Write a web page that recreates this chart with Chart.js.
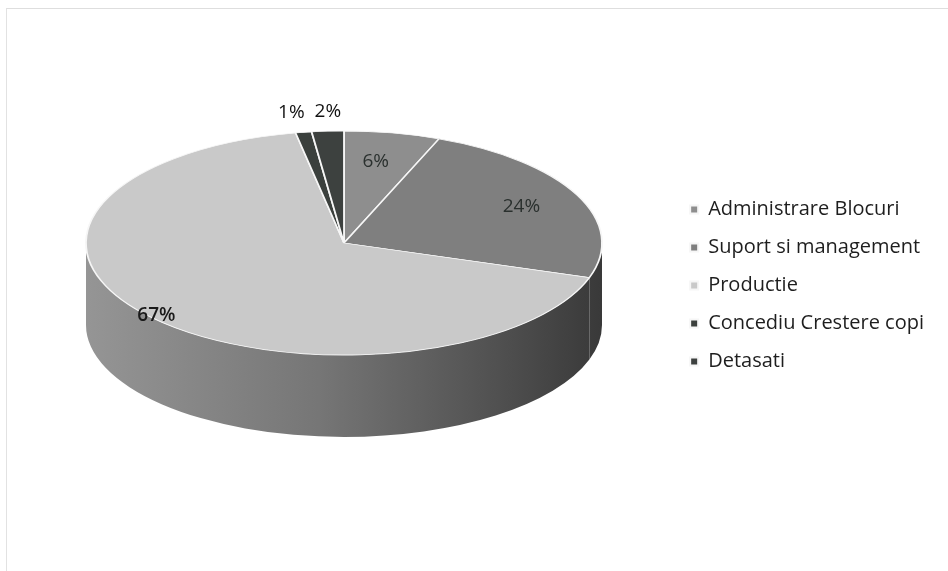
<!DOCTYPE html>
<html>
<head>
<meta charset="utf-8">
<script src="https://cdn.jsdelivr.net/npm/chart.js@4/dist/chart.umd.min.js"></script>
<style>
  html, body { margin: 0; padding: 0; background: #fff; }
  #wrap { position: relative; width: 948px; height: 571px; }
  #frame { position: absolute; left: 6px; top: 8px; right: 0; bottom: 0;
           border-top: 1px solid #dedede; border-left: 1px solid #e2e2e2; }
  canvas { position: absolute; left: 0; top: 0; }
</style>
</head>
<body>
<div id="wrap">
  <div id="frame"></div>
  <canvas id="chart" width="948" height="571"></canvas>
</div>
<script>
// date grafic
const categorii = ['Administrare Blocuri', 'Suport si management', 'Productie', 'Concediu Crestere copi', 'Detasati'];
const procente = [6, 24, 67, 1, 2];
const culori = ['#8e8e8e', '#7f7f7f', '#c9c9c9', '#3b403d', '#3d413f'];

// unde apare elipsa pe pagina (vedere 3D)
const ELIPSA = { cx: 344, cy: 243, rx: 258, ry: 112, adancime: 82 };

// pozitii etichete: raza relativa si mic decalaj orizontal
const razaEticheta = [0.74, 0.76, 0.98, 1.18, 1.18];
const decalajX = [-4, 0, 2, -5, 3];

function transforma(ctx, arc) {
    const r = arc.outerRadius;
    ctx.translate(ELIPSA.cx, ELIPSA.cy);
    ctx.scale(ELIPSA.rx / r, ELIPSA.ry / r);
    ctx.translate(-arc.x, -arc.y);
}

// deseneaza peretele lateral si aplica turtirea
const pie3d = {
    id: 'pie3d',
    beforeDatasetsDraw(chart) {
        const ctx = chart.ctx;
        const arcs = chart.getDatasetMeta(0).data;
        if (!arcs.length) return;
        const a0 = arcs[0];
        const r = a0.outerRadius;
        const d = ELIPSA.adancime * r / ELIPSA.ry;

        ctx.save();
        transforma(ctx, a0);

        const grad = ctx.createLinearGradient(a0.x - r, 0, a0.x + r, 0);
        grad.addColorStop(0, '#959595');
        grad.addColorStop(0.45, '#767676');
        grad.addColorStop(0.8, '#505050');
        grad.addColorStop(1, '#393939');

        arcs.forEach((arc) => {
            let s = arc.startAngle, e = arc.endAngle;
            // doar partea din fata (0..PI in unghiuri canvas)
            const norm = (v) => { v = v % (2 * Math.PI); return v < 0 ? v + 2 * Math.PI : v; };
            let ns = norm(s), ne = ns + (e - s);
            const parti = [];
            [[0, Math.PI], [2 * Math.PI, 3 * Math.PI]].forEach(([lo, hi]) => {
                const a = Math.max(ns, lo), b = Math.min(ne, hi);
                if (b > a) parti.push([a, b]);
            });
            parti.forEach(([a, b]) => {
                ctx.beginPath();
                ctx.arc(arc.x, arc.y, r, a, b);
                ctx.arc(arc.x, arc.y + d, r, b, a, true);
                ctx.closePath();
                ctx.fillStyle = grad;
                ctx.fill();
            });
        });
    },
    afterDatasetsDraw(chart) {
        const ctx = chart.ctx;
        ctx.restore();

        // etichete procentuale
        const arcs = chart.getDatasetMeta(0).data;
        ctx.save();
        ctx.textAlign = 'center';
        ctx.textBaseline = 'middle';
        arcs.forEach((arc, i) => {
            const mid = (arc.startAngle + arc.endAngle) / 2;
            const k = razaEticheta[i];
            const x = ELIPSA.cx + Math.cos(mid) * ELIPSA.rx * k + decalajX[i];
            const y = ELIPSA.cy + Math.sin(mid) * ELIPSA.ry * k;
            ctx.font = (i === 2 ? '600 ' : '500 ') + '19px "Open Sans"';
            ctx.fillStyle = i > 2 ? '#111' : (i === 2 ? '#1a1a1a' : '#2a302e');
            ctx.fillText(procente[i] + '%', x, y);
        });
        ctx.restore();
    }
};

new Chart(document.getElementById('chart'), {
    type: 'pie',
    data: {
        labels: categorii,
        datasets: [{
            data: procente,
            backgroundColor: culori,
            borderColor: '#f6f6f6',
            borderWidth: 2
        }]
    },
    options: {
        responsive: false,
        animation: false,
        layout: { padding: { right: 14 } },
        plugins: {
            tooltip: { enabled: false },
            legend: {
                position: 'right',
                labels: {
                    boxWidth: 8,
                    boxHeight: 8,
                    padding: 18,
                    color: '#1e1e1e',
                    font: { family: '"Open Sans"', size: 20, lineHeight: 1.2 }
                }
            }
        }
    },
    plugins: [pie3d]
});
</script>
</body>
</html>
